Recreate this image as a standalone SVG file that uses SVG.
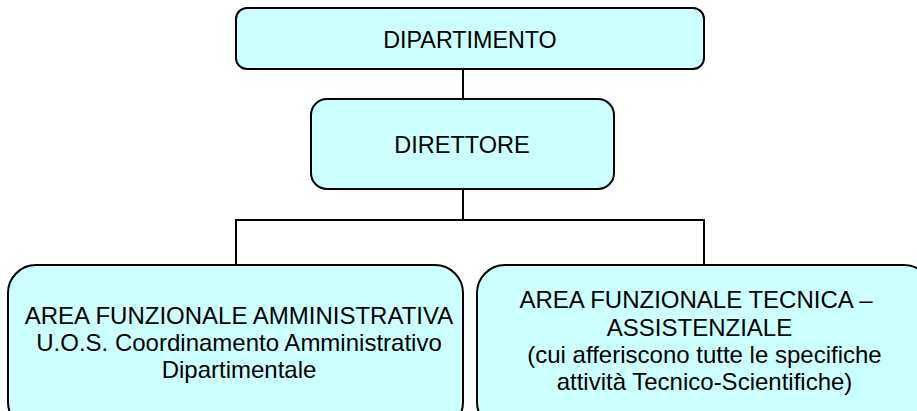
<svg xmlns="http://www.w3.org/2000/svg" width="917" height="411" viewBox="0 0 917 411">
<style>
.box{fill:#CCFFFF;stroke:#000;stroke-width:2}
.t{font-family:"Liberation Sans",Arial,sans-serif;font-size:24px;fill:#000;text-anchor:middle}
.c{stroke:#000;stroke-width:2;fill:none}
</style>
<rect width="917" height="411" fill="#fff"/>
<g id="connectors">
<line class="c" x1="463" y1="69" x2="463" y2="99"/>
<line class="c" x1="463" y1="189" x2="463" y2="220"/>
<polyline class="c" points="236,265 236,220 704,220 704,265"/>
</g>
<g id="dipartimento">
<rect class="box" x="236" y="8" width="468" height="61" rx="11"/>
<text class="t" x="470" y="48" style="font-size:23.3px">DIPARTIMENTO</text>
</g>
<g id="direttore">
<rect class="box" x="311" y="99" width="303" height="90" rx="16"/>
<text class="t" x="462" y="153" style="font-size:23.5px">DIRETTORE</text>
</g>
<g id="area-amministrativa">
<rect class="box" x="8" y="265" width="455" height="165" rx="28"/>
<text class="t" x="239" y="324">AREA FUNZIONALE AMMINISTRATIVA</text>
<text class="t" x="239" y="351">U.O.S. Coordinamento Amministrativo</text>
<text class="t" x="239" y="378">Dipartimentale</text>
</g>
<g id="area-tecnica">
<rect class="box" x="477" y="265" width="455" height="165" rx="28"/>
<text class="t" x="696" y="308">AREA FUNZIONALE TECNICA –</text>
<text class="t" x="699.5" y="336">ASSISTENZIALE</text>
<text class="t" x="704.5" y="363">(cui afferiscono tutte le specifiche</text>
<text class="t" x="704.5" y="390">attività Tecnico-Scientifiche)</text>
</g>
</svg>
